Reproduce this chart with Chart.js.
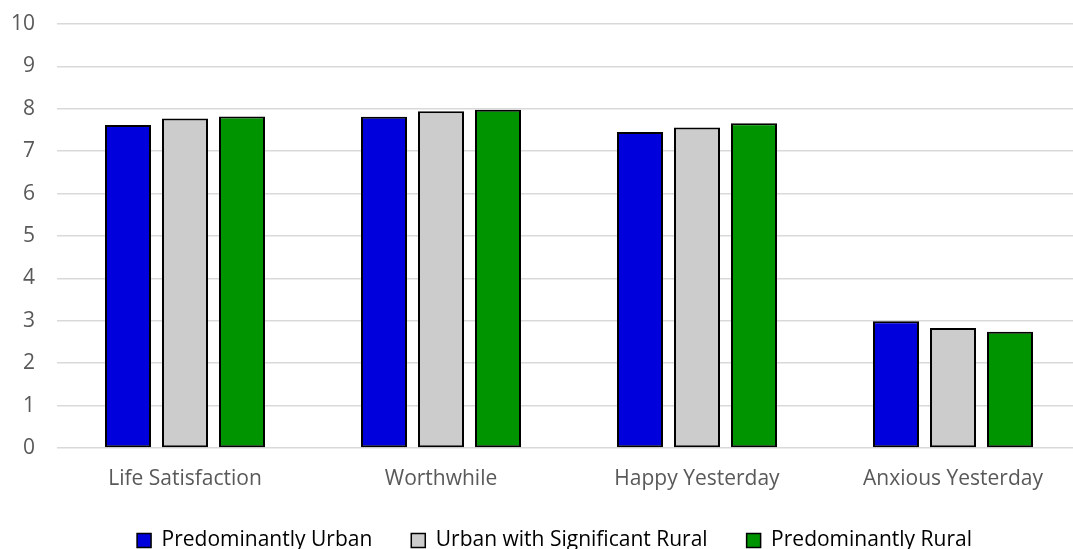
<!DOCTYPE html>
<html>
<head>
<meta charset="utf-8">
<script src="https://cdn.jsdelivr.net/npm/chart.js@4"></script>
<style>
  html, body { margin: 0; padding: 0; background: #fff; overflow: hidden; }
  #wrap { width: 1081px; height: 549px; }
</style>
</head>
<body>
<div id="wrap"><canvas id="wellbeingChart"></canvas></div>
<script>
var categories = ['Life Satisfaction', 'Worthwhile', 'Happy Yesterday', 'Anxious Yesterday'];
var urban = [7.62, 7.81, 7.45, 2.99];
var urbanRural = [7.77, 7.94, 7.56, 2.83];
var rural = [7.82, 7.98, 7.66, 2.74];
var yTicks = [0, 1, 2, 3, 4, 5, 6, 7, 8, 9, 10];

Chart.defaults.font.family = "'Open Sans', 'Liberation Sans', sans-serif";
Chart.defaults.color = '#595959';

// fixed legend height, and nudge the legend row a bit to the right
var legendHeight = {
    id: 'legendHeight',
    beforeInit: function (chart) {
        var fit = chart.legend.fit;
        chart.legend.fit = function () {
            fit.call(this);
            this.height = 58;
            if (this.lineWidths && this.lineWidths.length) {
                this.lineWidths[0] -= 28;
            }
        };
    }
};

var ctx = document.getElementById('wellbeingChart').getContext('2d');
var myChart = new Chart(ctx, {
    type: 'bar',
    data: {
        labels: categories,
        datasets: [{
            label: 'Predominantly Urban',
            data: urban,
            backgroundColor: '#0000dd'
        }, {
            label: 'Urban with Significant Rural',
            data: urbanRural,
            backgroundColor: '#cccccc'
        }, {
            label: 'Predominantly Rural',
            data: rural,
            backgroundColor: '#009400'
        }]
    },
    plugins: [legendHeight],
    options: {
        responsive: true,
        maintainAspectRatio: false,
        animation: false,
        layout: { padding: { left: 0, right: 0, top: 24, bottom: 0 } },
        datasets: {
            bar: {
                categoryPercentage: 0.668,
                barPercentage: 0.807,
                borderColor: '#000000',
                borderWidth: 2,
                borderSkipped: false
            }
        },
        scales: {
            x: {
                grid: { display: false },
                border: { display: false },
                ticks: { font: { size: 21 }, padding: 10, color: '#595959' },
                afterFit: function (axis) {
                    axis.height = 43;
                    axis.paddingLeft = 0;
                    axis.paddingRight = 0;
                }
            },
            y: {
                min: 0,
                max: 10,
                afterBuildTicks: function (axis) {
                    axis.ticks = yTicks.map(function (v) { return { value: v }; });
                },
                grid: { color: '#d9d9d9', lineWidth: 1.5, drawTicks: false },
                border: { display: false },
                ticks: { font: { size: 21 }, padding: 22, color: '#595959' },
                afterFit: function (axis) {
                    axis.width = 57;
                    axis.paddingTop = 0;
                    axis.paddingBottom = 0;
                }
            }
        },
        plugins: {
            legend: {
                position: 'bottom',
                labels: {
                    boxWidth: 14,
                    boxHeight: 14,
                    padding: 39,
                    font: { size: 21 },
                    color: '#595959',
                    generateLabels: function (chart) {
                        return chart.data.datasets.map(function (ds, i) {
                            return {
                                text: ds.label,
                                fillStyle: ds.backgroundColor,
                                strokeStyle: '#000000',
                                lineWidth: 1.5,
                                datasetIndex: i,
                                hidden: false
                            };
                        });
                    }
                }
            },
            tooltip: { enabled: false }
        }
    }
});
</script>
</body>
</html>
